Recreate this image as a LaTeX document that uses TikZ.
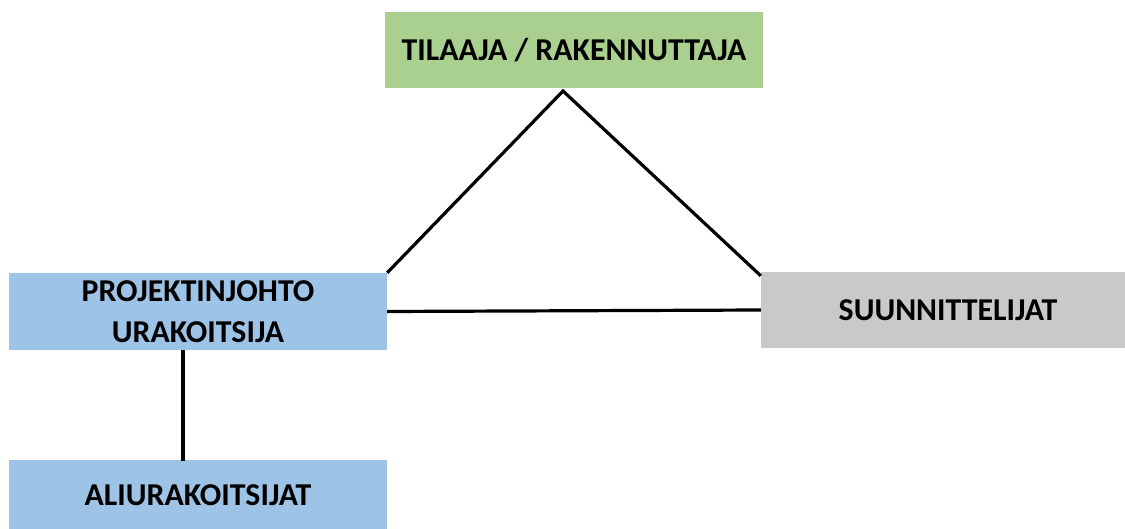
\documentclass[tikz,border=0pt]{standalone}
\usepackage{fontspec}
\setmainfont{Carlito}
\definecolor{boxgreen}{HTML}{A9D08E}
\definecolor{boxblue}{HTML}{9DC3E6}
\definecolor{boxgray}{HTML}{C9C9C9}
\begin{document}
\begin{tikzpicture}[x=1pt,y=-1pt,
  box/.style={rectangle, inner sep=0pt, align=center,
    font=\fontsize{31.8}{41}\selectfont\bfseries},
  conn/.style={draw=black, line width=3.2pt}]
\useasboundingbox (0,0) rectangle (1125,529);
\node[box, fill=boxgreen, minimum width=378pt, minimum height=76pt] (til) at (574,50) {TILAAJA / RAKENNUTTAJA};
\node[box, fill=boxblue, minimum width=378pt, minimum height=77pt] (pj) at (198,311.5) {PROJEKTINJOHTO\\URAKOITSIJA};
\node[box, fill=boxgray, minimum width=364pt, minimum height=76pt] (su) at (943,310) {\hspace*{10pt}SUUNNITTELIJAT};
\node[box, fill=boxblue, minimum width=378pt, minimum height=71pt] (ali) at (198,495) {ALIURAKOITSIJAT};
\coordinate (apex) at (563,91);
\draw[conn] (pj.north east) -- (apex) -- ([yshift=-4pt]su.north west);
\draw[conn] (pj.east) -- (su.west);
\draw[conn] ([xshift=-15pt]pj.south) -- ([xshift=-15pt,yshift=-2pt]ali.north);
\end{tikzpicture}
\end{document}
